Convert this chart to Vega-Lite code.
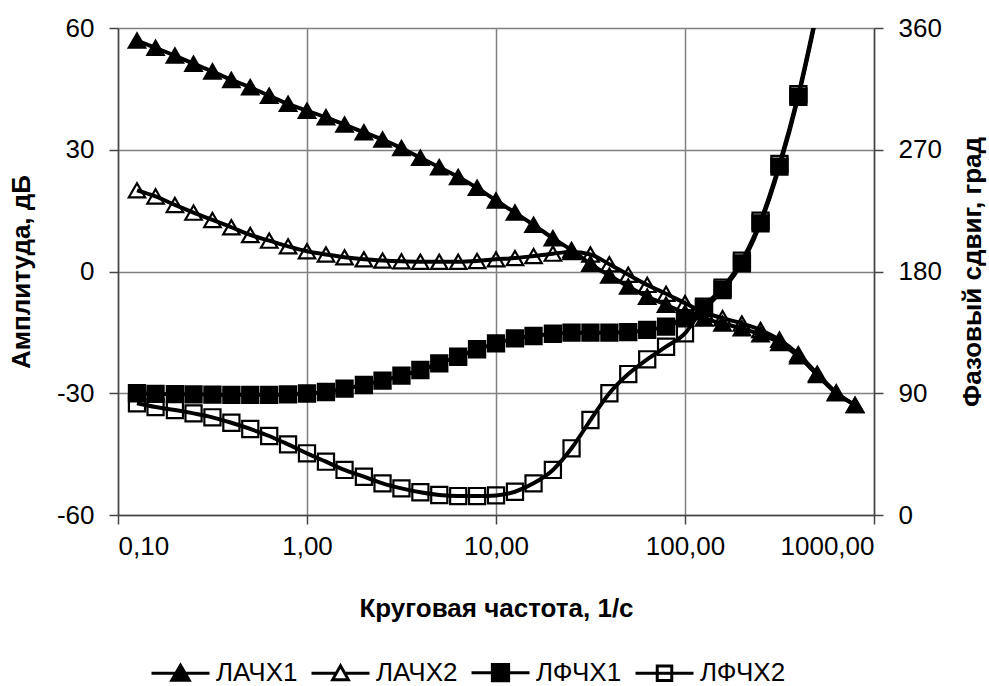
{
  "$schema": "https://vega.github.io/schema/vega-lite/v6.json",
  "autosize": {"type": "none"},
  "width": 756,
  "height": 487,
  "padding": {"left": 118, "top": 28, "right": 115, "bottom": 171},
  "background": "white",
  "config": {
    "font": "Liberation Sans",
    "view": {"stroke": null},
    "axis": {
      "labelFont": "Liberation Sans",
      "labelFontSize": 26,
      "labelColor": "black",
      "titleFont": "Liberation Sans",
      "titleFontSize": 26,
      "titleFontWeight": "bold",
      "titleColor": "black",
      "domainColor": "#444444",
      "domainWidth": 1.5,
      "tickColor": "#444444",
      "tickWidth": 1.5,
      "tickSize": 9,
      "gridColor": "#808080",
      "gridWidth": 1.5,
      "gridOpacity": 1
    },
    "legend": {
      "labelFont": "Liberation Sans",
      "labelFontSize": 26,
      "labelColor": "black"
    }
  },
  "data": {
    "values": [
      {"f": 0.126, "s": "ЛАЧХ1", "v": 56.9}, {"f": 0.158, "s": "ЛАЧХ1", "v": 55.1}, {"f": 0.2, "s": "ЛАЧХ1", "v": 53.2}, {"f": 0.251, "s": "ЛАЧХ1", "v": 51.2}, {"f": 0.316, "s": "ЛАЧХ1", "v": 49.3}, {"f": 0.398, "s": "ЛАЧХ1", "v": 47.2}, {"f": 0.501, "s": "ЛАЧХ1", "v": 45.4}, {"f": 0.631, "s": "ЛАЧХ1", "v": 43.3}, {"f": 0.794, "s": "ЛАЧХ1", "v": 41.3}, {"f": 1, "s": "ЛАЧХ1", "v": 39.6},
      {"f": 1.26, "s": "ЛАЧХ1", "v": 38.0}, {"f": 1.58, "s": "ЛАЧХ1", "v": 36.2}, {"f": 2, "s": "ЛАЧХ1", "v": 34.3}, {"f": 2.51, "s": "ЛАЧХ1", "v": 32.5}, {"f": 3.16, "s": "ЛАЧХ1", "v": 30.4}, {"f": 3.98, "s": "ЛАЧХ1", "v": 28.0}, {"f": 5.01, "s": "ЛАЧХ1", "v": 25.7}, {"f": 6.31, "s": "ЛАЧХ1", "v": 23.3}, {"f": 7.94, "s": "ЛАЧХ1", "v": 20.6}, {"f": 10, "s": "ЛАЧХ1", "v": 17.5},
      {"f": 12.6, "s": "ЛАЧХ1", "v": 14.5}, {"f": 15.8, "s": "ЛАЧХ1", "v": 11.5}, {"f": 20, "s": "ЛАЧХ1", "v": 8.2}, {"f": 25.1, "s": "ЛАЧХ1", "v": 5.3}, {"f": 31.6, "s": "ЛАЧХ1", "v": 1.9}, {"f": 39.8, "s": "ЛАЧХ1", "v": -1.0}, {"f": 50.1, "s": "ЛАЧХ1", "v": -3.7}, {"f": 63.1, "s": "ЛАЧХ1", "v": -6.2}, {"f": 79.4, "s": "ЛАЧХ1", "v": -8.2}, {"f": 100, "s": "ЛАЧХ1", "v": -10.2},
      {"f": 126, "s": "ЛАЧХ1", "v": -11.6}, {"f": 158, "s": "ЛАЧХ1", "v": -12.8}, {"f": 200, "s": "ЛАЧХ1", "v": -14.0}, {"f": 251, "s": "ЛАЧХ1", "v": -15.5}, {"f": 316, "s": "ЛАЧХ1", "v": -17.6}, {"f": 398, "s": "ЛАЧХ1", "v": -20.9}, {"f": 501, "s": "ЛАЧХ1", "v": -25.5}, {"f": 631, "s": "ЛАЧХ1", "v": -30.0}, {"f": 794, "s": "ЛАЧХ1", "v": -32.9},

      {"f": 0.126, "s": "ЛАЧХ2", "v": 20.0}, {"f": 0.158, "s": "ЛАЧХ2", "v": 18.5}, {"f": 0.2, "s": "ЛАЧХ2", "v": 16.4}, {"f": 0.251, "s": "ЛАЧХ2", "v": 14.5}, {"f": 0.316, "s": "ЛАЧХ2", "v": 12.7}, {"f": 0.398, "s": "ЛАЧХ2", "v": 10.9}, {"f": 0.501, "s": "ЛАЧХ2", "v": 9.0}, {"f": 0.631, "s": "ЛАЧХ2", "v": 7.6}, {"f": 0.794, "s": "ЛАЧХ2", "v": 6.2}, {"f": 1, "s": "ЛАЧХ2", "v": 5.0},
      {"f": 1.26, "s": "ЛАЧХ2", "v": 4.2}, {"f": 1.58, "s": "ЛАЧХ2", "v": 3.5}, {"f": 2, "s": "ЛАЧХ2", "v": 3.0}, {"f": 2.51, "s": "ЛАЧХ2", "v": 2.7}, {"f": 3.16, "s": "ЛАЧХ2", "v": 2.5}, {"f": 3.98, "s": "ЛАЧХ2", "v": 2.4}, {"f": 5.01, "s": "ЛАЧХ2", "v": 2.4}, {"f": 6.31, "s": "ЛАЧХ2", "v": 2.4}, {"f": 7.94, "s": "ЛАЧХ2", "v": 2.6}, {"f": 10, "s": "ЛАЧХ2", "v": 3.0},
      {"f": 12.6, "s": "ЛАЧХ2", "v": 3.3}, {"f": 15.8, "s": "ЛАЧХ2", "v": 3.8}, {"f": 20, "s": "ЛАЧХ2", "v": 4.4}, {"f": 25.1, "s": "ЛАЧХ2", "v": 4.8}, {"f": 31.6, "s": "ЛАЧХ2", "v": 4.2}, {"f": 39.8, "s": "ЛАЧХ2", "v": 1.8}, {"f": 50.1, "s": "ЛАЧХ2", "v": -0.8}, {"f": 63.1, "s": "ЛАЧХ2", "v": -3.3}, {"f": 79.4, "s": "ЛАЧХ2", "v": -5.5}, {"f": 100, "s": "ЛАЧХ2", "v": -7.8},
      {"f": 126, "s": "ЛАЧХ2", "v": -10.0}, {"f": 158, "s": "ЛАЧХ2", "v": -11.5}, {"f": 200, "s": "ЛАЧХ2", "v": -12.8}, {"f": 251, "s": "ЛАЧХ2", "v": -14.4}, {"f": 316, "s": "ЛАЧХ2", "v": -16.8}, {"f": 398, "s": "ЛАЧХ2", "v": -20.4}, {"f": 501, "s": "ЛАЧХ2", "v": -25.2}, {"f": 631, "s": "ЛАЧХ2", "v": -29.8}, {"f": 794, "s": "ЛАЧХ2", "v": -32.9},

      {"f": 0.126, "s": "ЛФЧХ1", "v": 90.0}, {"f": 0.158, "s": "ЛФЧХ1", "v": 89.6}, {"f": 0.2, "s": "ЛФЧХ1", "v": 89.4}, {"f": 0.251, "s": "ЛФЧХ1", "v": 89.2}, {"f": 0.316, "s": "ЛФЧХ1", "v": 89.0}, {"f": 0.398, "s": "ЛФЧХ1", "v": 88.8}, {"f": 0.501, "s": "ЛФЧХ1", "v": 88.8}, {"f": 0.631, "s": "ЛФЧХ1", "v": 88.8}, {"f": 0.794, "s": "ЛФЧХ1", "v": 89.2}, {"f": 1, "s": "ЛФЧХ1", "v": 89.8},
      {"f": 1.26, "s": "ЛФЧХ1", "v": 90.9}, {"f": 1.58, "s": "ЛФЧХ1", "v": 93.4}, {"f": 2, "s": "ЛФЧХ1", "v": 96.1}, {"f": 2.51, "s": "ЛФЧХ1", "v": 99.3}, {"f": 3.16, "s": "ЛФЧХ1", "v": 103.0}, {"f": 3.98, "s": "ЛФЧХ1", "v": 107.2}, {"f": 5.01, "s": "ЛФЧХ1", "v": 112.1}, {"f": 6.31, "s": "ЛФЧХ1", "v": 117.0}, {"f": 7.94, "s": "ЛФЧХ1", "v": 122.5}, {"f": 10, "s": "ЛФЧХ1", "v": 126.9},
      {"f": 12.6, "s": "ЛФЧХ1", "v": 130.6}, {"f": 15.8, "s": "ЛФЧХ1", "v": 132.3}, {"f": 20, "s": "ЛФЧХ1", "v": 134.0}, {"f": 25.1, "s": "ЛФЧХ1", "v": 134.8}, {"f": 31.6, "s": "ЛФЧХ1", "v": 134.8}, {"f": 39.8, "s": "ЛФЧХ1", "v": 134.8}, {"f": 50.1, "s": "ЛФЧХ1", "v": 135.2}, {"f": 63.1, "s": "ЛФЧХ1", "v": 136.8}, {"f": 79.4, "s": "ЛФЧХ1", "v": 139.2}, {"f": 100, "s": "ЛФЧХ1", "v": 145.4},
      {"f": 126, "s": "ЛФЧХ1", "v": 152.8}, {"f": 158, "s": "ЛФЧХ1", "v": 166.3}, {"f": 200, "s": "ЛФЧХ1", "v": 186.0}, {"f": 251, "s": "ЛФЧХ1", "v": 215.6}, {"f": 316, "s": "ЛФЧХ1", "v": 257.5}, {"f": 398, "s": "ЛФЧХ1", "v": 309.2}, {"f": 501, "s": "ЛФЧХ1", "v": 372},

      {"f": 0.126, "s": "ЛФЧХ2", "v": 82.6}, {"f": 0.158, "s": "ЛФЧХ2", "v": 79.8}, {"f": 0.2, "s": "ЛФЧХ2", "v": 77.6}, {"f": 0.251, "s": "ЛФЧХ2", "v": 75.1}, {"f": 0.316, "s": "ЛФЧХ2", "v": 72.2}, {"f": 0.398, "s": "ЛФЧХ2", "v": 68.2}, {"f": 0.501, "s": "ЛФЧХ2", "v": 63.6}, {"f": 0.631, "s": "ЛФЧХ2", "v": 58.4}, {"f": 0.794, "s": "ЛФЧХ2", "v": 52.2}, {"f": 1, "s": "ЛФЧХ2", "v": 45.6},
      {"f": 1.26, "s": "ЛФЧХ2", "v": 39.4}, {"f": 1.58, "s": "ЛФЧХ2", "v": 33.3}, {"f": 2, "s": "ЛФЧХ2", "v": 28.3}, {"f": 2.51, "s": "ЛФЧХ2", "v": 23.4}, {"f": 3.16, "s": "ЛФЧХ2", "v": 19.7}, {"f": 3.98, "s": "ЛФЧХ2", "v": 16.8}, {"f": 5.01, "s": "ЛФЧХ2", "v": 14.8}, {"f": 6.31, "s": "ЛФЧХ2", "v": 14.0}, {"f": 7.94, "s": "ЛФЧХ2", "v": 14.0}, {"f": 10, "s": "ЛФЧХ2", "v": 14.5},
      {"f": 12.6, "s": "ЛФЧХ2", "v": 17.2}, {"f": 15.8, "s": "ЛФЧХ2", "v": 23.4}, {"f": 20, "s": "ЛФЧХ2", "v": 33.3}, {"f": 25.1, "s": "ЛФЧХ2", "v": 49.3}, {"f": 31.6, "s": "ЛФЧХ2", "v": 70.2}, {"f": 39.8, "s": "ЛФЧХ2", "v": 90.0}, {"f": 50.1, "s": "ЛФЧХ2", "v": 104.2}, {"f": 63.1, "s": "ЛФЧХ2", "v": 115.1}, {"f": 79.4, "s": "ЛФЧХ2", "v": 124.4}, {"f": 100, "s": "ЛФЧХ2", "v": 134.3},
      {"f": 126, "s": "ЛФЧХ2", "v": 154.0}, {"f": 158, "s": "ЛФЧХ2", "v": 168.0}, {"f": 200, "s": "ЛФЧХ2", "v": 188.0}, {"f": 251, "s": "ЛФЧХ2", "v": 217.5}, {"f": 316, "s": "ЛФЧХ2", "v": 259.5}, {"f": 398, "s": "ЛФЧХ2", "v": 311.0}, {"f": 501, "s": "ЛФЧХ2", "v": 374}
    ]
  },
  "encoding": {
    "x": {
      "field": "f",
      "type": "quantitative",
      "scale": {"type": "log", "domain": [0.1, 1000], "nice": false},
      "axis": {
        "values": [0.1, 1, 10, 100, 1000],
        "labelExpr": "replace(format(datum.value, '.2f'), '.', ',')",
        "labelPadding": 9,
        "title": "Круговая частота, 1/с",
        "titlePadding": 36,
        "grid": true
      }
    }
  },
  "layer": [
    {
      "transform": [{"filter": "indexof(datum.s, 'ЛАЧХ') === 0"}],
      "encoding": {
        "y": {
          "field": "v",
          "type": "quantitative",
          "scale": {"domain": [-60, 60], "nice": false, "zero": false},
          "axis": {
            "orient": "left",
            "values": [-60, -30, 0, 30, 60],
            "labelExpr": "datum.value < 0 ? '-' + format(-datum.value, 'd') : format(datum.value, 'd')",
            "labelPadding": 15,
            "title": "Амплитуда, дБ",
            "titlePadding": 22,
            "grid": true
          }
        }
      },
      "layer": [
        {
          "mark": {"type": "line", "color": "black", "strokeWidth": 4, "interpolate": "monotone", "clip": true},
          "encoding": {"detail": {"field": "s"}}
        },
        {
          "mark": {"type": "point", "stroke": "black", "strokeWidth": 2.2, "size": 270, "opacity": 1, "filled": false, "clip": true},
          "encoding": {
            "shape": {"field": "s", "type": "nominal", "legend": null, "scale": {"domain": ["ЛАЧХ1", "ЛАЧХ2"], "range": ["triangle-up", "triangle-up"]}},
            "fill": {"field": "s", "type": "nominal", "legend": null, "scale": {"domain": ["ЛАЧХ1", "ЛАЧХ2"], "range": ["black", "transparent"]}}
          }
        }
      ]
    },
    {
      "transform": [{"filter": "indexof(datum.s, 'ЛФЧХ') === 0"}],
      "encoding": {
        "y": {
          "field": "v",
          "type": "quantitative",
          "scale": {"domain": [0, 360], "nice": false, "zero": false},
          "axis": {
            "orient": "right",
            "values": [0, 90, 180, 270, 360],
            "format": "d",
            "labelPadding": 15,
            "title": "Фазовый сдвиг, град",
            "titleAngle": 270,
            "titleBaseline": "top",
            "titlePadding": 18,
            "grid": false
          }
        }
      },
      "layer": [
        {
          "mark": {"type": "line", "color": "black", "strokeWidth": 4, "interpolate": "monotone", "clip": true},
          "encoding": {"detail": {"field": "s"}}
        },
        {
          "mark": {"type": "point", "stroke": "black", "strokeWidth": 2.2, "size": 260, "opacity": 1, "filled": false, "clip": true},
          "encoding": {
            "shape": {"field": "s", "type": "nominal", "legend": null, "scale": {"domain": ["ЛФЧХ1", "ЛФЧХ2"], "range": ["square", "square"]}},
            "fill": {"field": "s", "type": "nominal", "legend": null, "scale": {"domain": ["ЛФЧХ1", "ЛФЧХ2"], "range": ["black", "transparent"]}}
          }
        }
      ]
    },
    {
      "transform": [{"filter": "false"}],
      "mark": {"type": "point", "strokeWidth": 3, "opacity": 1, "filled": false},
      "encoding": {
        "shape": {
          "field": "s", "type": "nominal",
          "scale": {
            "domain": ["ЛАЧХ1", "ЛАЧХ2", "ЛФЧХ1", "ЛФЧХ2"],
            "range": [
              "M-1,0H1M0,-0.28L0.3,0.24L-0.3,0.24Z",
              "M-1,0H-0.16M0.16,0H1M0,-0.26L0.27,0.22L-0.27,0.22Z",
              "M-1,0H1M-0.28,-0.28H0.28V0.28H-0.28Z",
              "M-1,0H1M-0.25,-0.25H0.25V0.25H-0.25Z"
            ]
          },
          "legend": {
            "title": null,
            "orient": "none",
            "direction": "horizontal",
            "legendX": 32,
            "legendY": 614,
            "padding": 0,
            "symbolSize": 3364,
            "symbolStrokeWidth": 3,
            "symbolStrokeColor": "black",
            "symbolOpacity": 1,
            "labelOffset": 5,
            "columnPadding": 7,
            "encode": {"symbols": {"update": {"stroke": {"value": "black"}, "strokeWidth": {"value": 3}}}}
          }
        },
        "fill": {
          "field": "s", "type": "nominal",
          "scale": {"domain": ["ЛАЧХ1", "ЛАЧХ2", "ЛФЧХ1", "ЛФЧХ2"], "range": ["black", "transparent", "black", "transparent"]},
          "legend": {
            "title": null,
            "orient": "none",
            "direction": "horizontal",
            "legendX": 32,
            "legendY": 614,
            "padding": 0,
            "symbolSize": 3364,
            "symbolStrokeWidth": 3,
            "symbolStrokeColor": "black",
            "symbolOpacity": 1,
            "labelOffset": 5,
            "columnPadding": 7
          }
        },
        "stroke": {
          "field": "s", "type": "nominal",
          "scale": {"domain": ["ЛАЧХ1", "ЛАЧХ2", "ЛФЧХ1", "ЛФЧХ2"], "range": ["black", "black", "black", "black"]},
          "legend": {
            "title": null,
            "orient": "none",
            "direction": "horizontal",
            "legendX": 32,
            "legendY": 614,
            "padding": 0,
            "symbolSize": 3364,
            "symbolStrokeWidth": 3,
            "symbolOpacity": 1,
            "labelOffset": 5,
            "columnPadding": 7
          }
        }
      }
    }
  ],
  "resolve": {"scale": {"y": "independent", "shape": "independent", "fill": "independent", "stroke": "independent"}}
}
